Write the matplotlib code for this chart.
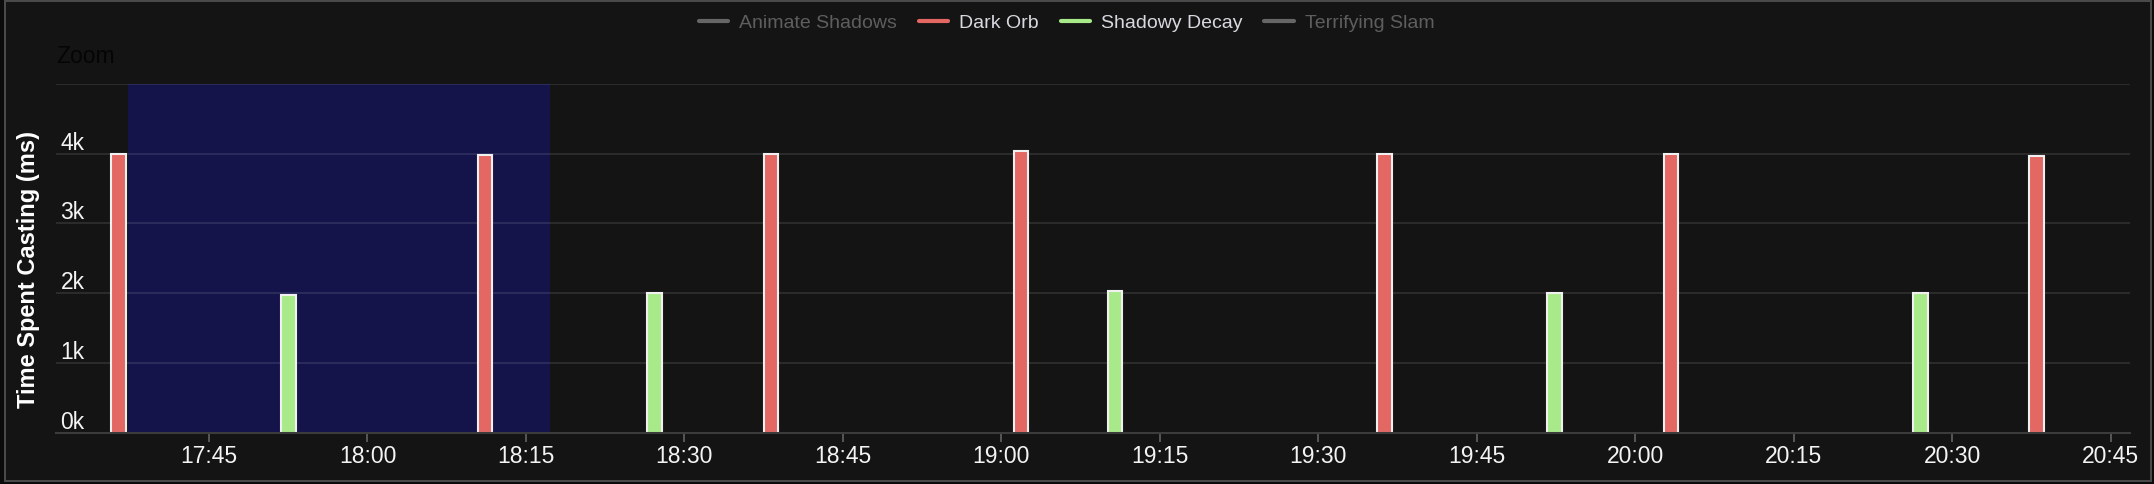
import matplotlib
matplotlib.use("Agg")
import matplotlib.pyplot as plt
import matplotlib.dates as mdates
import matplotlib.transforms as mtransforms
from matplotlib.lines import Line2D
from matplotlib.patches import Rectangle
import pandas as pd

plt.rcParams['font.family'] = ['Liberation Sans', 'DejaVu Sans']

DAY = "2024-01-01 "

# ---- data ----
dark_orb_times = ["17:36:26", "18:11:07", "18:38:12", "19:01:52", "19:36:17", "20:03:23", "20:38:00"]
dark_orb_values = [4000, 3975, 4000, 4030, 4000, 4000, 3970]

shadowy_decay_times = ["17:52:33", "18:27:11", "19:10:45", "19:52:23", "20:27:02"]
shadowy_decay_values = [1970, 2000, 2030, 2000, 2000]

legend_names = ["Animate Shadows", "Dark Orb", "Shadowy Decay", "Terrifying Slam"]
legend_visible = [False, True, True, False]

zoom_band = ["17:37:18", "18:17:17"]
x_range = ["17:30:31", "20:46:50"]
y_ticks = [0, 1000, 2000, 3000, 4000]
y_max = 5000
y_label = "Time Spent Casting (ms)"

# ---- styles ----
BG = "#141414"
RED = "#e36763"
GREEN = "#a8ea89"
HIDDEN = "#666666"
BAND = "#14144a"

def to_num(ts):
    return mdates.date2num(pd.to_datetime([DAY + t for t in ts]))

W, H = 2154, 484
fig = plt.figure(figsize=(W / 100, H / 100), dpi=100)
fig.patch.set_facecolor("#0b0b0b")
fig.add_artist(Rectangle((5 / W, 3 / H), 2146 / W, 480 / H, transform=fig.transFigure,
                         facecolor=BG, edgecolor="#4a4a4a", linewidth=1.44, zorder=0))

ax = fig.add_axes([56 / W, 1 - 433 / H, (2130 - 56) / W, (433 - 83.7) / H])
ax.set_facecolor(BG)

bar_w = 1.4 / 1440.0
ax.bar(to_num(dark_orb_times), dark_orb_values, width=bar_w, color=RED,
       edgecolor="#f0f0f0", linewidth=1.5, zorder=2)
ax.bar(to_num(shadowy_decay_times), shadowy_decay_values, width=bar_w, color=GREEN,
       edgecolor="#f0f0f0", linewidth=1.5, zorder=2)

band = to_num(zoom_band)
ax.axvspan(band[0], band[1], color=BAND, zorder=0.2, linewidth=0)

xr = to_num(x_range)
ax.set_xlim(xr[0], xr[1])
ax.set_ylim(0, y_max)

ax.set_yticks(list(range(0, y_max + 1, 1000)))
ax.yaxis.grid(True, color="white", alpha=0.11, linewidth=1.3, zorder=0.5)
ax.set_axisbelow(True)
ax.tick_params(axis="y", length=0, labelleft=False)

ax.xaxis.set_major_locator(mdates.MinuteLocator(byminute=[0, 15, 30, 45]))
ax.xaxis.set_major_formatter(mdates.DateFormatter("%H:%M"))
ax.tick_params(axis="x", colors="#555555", length=6.5, width=1.44, pad=2,
               labelcolor="#f4f4f4", labelsize=16.5)

for s in ["top", "right", "left"]:
    ax.spines[s].set_visible(False)
ax.spines["bottom"].set_color("#3c3c3c")
ax.spines["bottom"].set_linewidth(1.5)
ax.spines["bottom"].set_zorder(3)

lab_tr = mtransforms.offset_copy(ax.get_yaxis_transform(), fig=fig, x=4.5, y=4, units="dots")
for v in y_ticks:
    ax.text(0, v, f"{v // 1000}k", transform=lab_tr, ha="left", va="baseline",
            fontsize=16.5, color="#f4f4f4", zorder=4)

ax.set_ylabel(y_label, fontsize=17, fontweight="bold", color="white", va="center")
ax.yaxis.set_label_coords((29 - 56) / (2130 - 56), (433 - 269.5) / (433 - 83.7))

fig.text(56 / W, 1 - 63.3 / H, "Zoom", fontsize=16.5, color="#050505", ha="left", va="baseline")

colors = [HIDDEN, RED, GREEN, HIDDEN]
handles = [Line2D([], [], color=c, linewidth=3, solid_capstyle="round") for c in colors]
leg = fig.legend(handles, legend_names, loc="center", bbox_to_anchor=(0.4951, 1 - 23.3 / H),
                 ncol=4, frameon=False, fontsize=14, handlelength=1.5, handletextpad=0.57,
                 columnspacing=1.13, borderpad=0, borderaxespad=0)
for t, vis in zip(leg.get_texts(), legend_visible):
    t.set_color("#d8d8e0" if vis else "#5e5e5e")

fig.savefig("out.png", dpi=100, facecolor=fig.get_facecolor())
